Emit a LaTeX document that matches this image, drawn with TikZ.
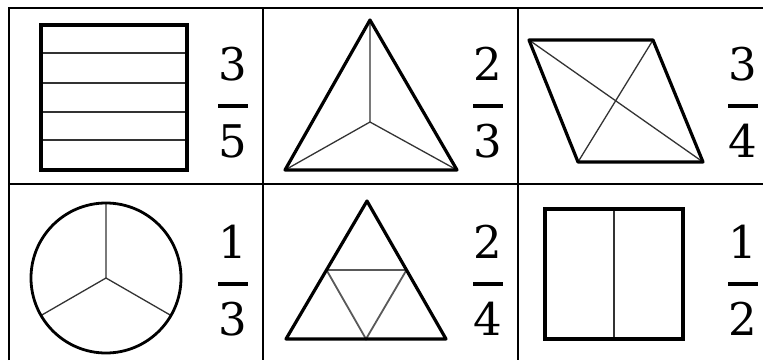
\documentclass[tikz,border=0pt]{standalone}
\usepackage{fontspec}
\newfontfamily\digitfont{DejaVu Serif}
\begin{document}
\begin{tikzpicture}[x=1pt,y=-1pt,
  grid/.style={line width=2.8pt,black},
  thick outline/.style={line width=3.8pt,black,line join=miter},
  mid outline/.style={line width=3.2pt,black,line join=round},
  thin part/.style={line width=1.3pt,black!80},
  digit/.style={anchor=base,inner sep=0pt,font=\digitfont\fontsize{45}{45}\selectfont},
  fracbar/.style={line width=3.2pt,black}]
\useasboundingbox (0,0) rectangle (763,360);
\fill[white] (0,0) rectangle (763,360);
% table
\draw[grid] (9,360) -- (9,8) -- (763,8);
\draw[grid] (9,184) -- (763,184);
\draw[grid] (263,8) -- (263,360);
\draw[grid] (518,8) -- (518,360);
% cell 1: square in fifths
\foreach \y in {53,83,112,140} \draw[thin part] (41,\y) -- (187,\y);
\draw[thick outline] (41,25) rectangle (187,170);
% cell 2: triangle in thirds
\coordinate (tA) at (370,20); \coordinate (tB) at (285,170); \coordinate (tC) at (457,170); \coordinate (tO) at (370,122);
\draw[thin part] (tA) -- (tO) (tB) -- (tO) -- (tC);
\draw[mid outline] (tA) -- (tB) -- (tC) -- cycle;
% cell 3: rhombus with diagonals
\coordinate (rA) at (529,40); \coordinate (rB) at (653,40); \coordinate (rC) at (703,162); \coordinate (rD) at (578,162);
\draw[thin part] (rA) -- (rC) (rB) -- (rD);
\draw[mid outline] (rA) -- (rB) -- (rC) -- (rD) -- cycle;
% cell 4: circle in thirds
\coordinate (cO) at (106,278);
\draw[thin part] (cO) -- ++(0,-75) (cO) -- ++(-65,37.5) (cO) -- ++(65,37.5);
\draw[line width=2.8pt] (cO) circle (75);
% cell 5: triangle in quarters
\coordinate (sA) at (367,201); \coordinate (sB) at (286,339); \coordinate (sC) at (446,339);
\coordinate (sAB) at (326.5,270); \coordinate (sAC) at (406.5,270); \coordinate (sBC) at (366,339);
\draw[line width=1.8pt,black!65] (sAB) -- (sAC) -- (sBC) -- cycle;
\draw[mid outline] (sA) -- (sB) -- (sC) -- cycle;
% cell 6: square in halves
\draw[thin part] (614,209) -- (614,339);
\draw[thick outline] (545,209) rectangle (683,339);
% fractions
\foreach \cx/\top/\n/\d [count=\i] in {233/0/3/5,488/0/2/3,743/0/3/4,233/178/1/3,488/178/2/4,743/178/1/2}{
  \node[digit] (num\i) at (\cx,80+\top) {\n};
  \node[digit] (den\i) at (\cx,157+\top) {\d};
  \draw[fracbar] (\cx-15,106+\top) -- (\cx+15,106+\top);
}
\end{tikzpicture}
\end{document}
